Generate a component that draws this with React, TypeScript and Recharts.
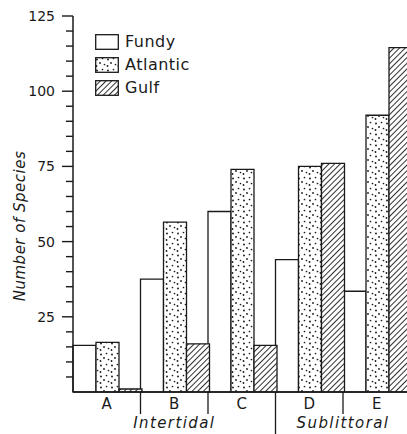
import React from 'react';
import { BarChart, Bar, XAxis, YAxis } from 'recharts';

// sampling sites along the shore
const categories = ['A', 'B', 'C', 'D', 'E'];
const fundy = [15.5, 37.5, 60, 44, 33.5];
const atlantic = [16.5, 56.5, 74, 75, 92];
const gulf = [1, 16, 15.5, 76, 114.5];

const zones = [
  { label: 'Intertidal', from: 1, to: 1 },
  { label: 'Sublittoral', from: 3, to: 4 },
];

const yMax = 125;
const yMajor = [25, 50, 75, 100, 125];
const yStep = 5;

const data = categories.map((c, i) => ({
  site: c,
  fundy: fundy[i],
  atlantic: atlantic[i],
  gulf: gulf[i],
}));

const CHART_W = 420;
const CHART_H = 434;
const AXIS_W = 73;
const AXIS_H = 42;
const TOP = 16;
const RIGHT = 9.5;
const BAND = (CHART_W - AXIS_W - RIGHT) / categories.length;

const INK = '#1a1a1a';
const FONT = '"DejaVu Sans", sans-serif';

const yTicks = Array.from({ length: yMax / yStep + 1 }, (_, i) => i * yStep);

const YTick = ({ x, y, payload }: any) => {
  const v = payload.value;
  const major = yMajor.includes(v);
  if (v === 0) return null;
  return (
    <g>
      <line x1={x - (major ? 11 : 7)} x2={x} y1={y} y2={y} stroke={INK} strokeWidth={1.4} />
      {major && (
        <text x={x - 18} y={y + 5} textAnchor="end" fontSize={14} fill={INK} fontFamily={FONT}>
          {v}
        </text>
      )}
    </g>
  );
};

const XTick = ({ x, y, payload, index }: any) => {
  const i = index ?? categories.indexOf(payload.value);
  const zone = zones.find(z => z.from === i);
  return (
    <g>
      <text x={x} y={y + 17} textAnchor="middle" fontSize={15} fill={INK} fontFamily={FONT}>
        {payload.value}
      </text>
      {i > 0 && (
        <line
          x1={x - BAND / 2}
          x2={x - BAND / 2}
          y1={y}
          y2={i === 3 ? y + 50 : y + 22}
          stroke={INK}
          strokeWidth={1.3}
        />
      )}
      {zone && (
        <text
          x={x + ((zone.to - zone.from) * BAND) / 2}
          y={y + 36}
          textAnchor="middle"
          fontSize={15}
          fontStyle="italic"
          letterSpacing={1.4}
          fill={INK}
          fontFamily={FONT}
        >
          {zone.label}
        </text>
      )}
    </g>
  );
};

const swatches = [
  { name: 'Fundy', fill: '#fff' },
  { name: 'Atlantic', fill: 'url(#dots)' },
  { name: 'Gulf', fill: 'url(#hatch)' },
];

const LegendBox = () => (
  <div style={{ position: 'absolute', left: 95, top: 30, fontFamily: FONT, fontSize: 16, color: INK }}>
    {swatches.map(s => (
      <div key={s.name} style={{ display: 'flex', alignItems: 'center', height: 23 }}>
        <svg width={24} height={16} style={{ display: 'block' }}>
          <rect x={0.7} y={0.7} width={22.6} height={14.6} fill={s.fill} stroke={INK} strokeWidth={1.3} />
        </svg>
        <span style={{ marginLeft: 6, letterSpacing: 0.5 }}>{s.name}</span>
      </div>
    ))}
  </div>
);

export default function App() {
  return (
    <div style={{ position: 'absolute', left: 0, top: 0, width: 407, height: 434, overflow: 'hidden', background: '#fff' }}>
      <BarChart
        width={CHART_W}
        height={CHART_H}
        data={data}
        margin={{ top: TOP, right: RIGHT, bottom: 0, left: 0 }}
        barCategoryGap={0}
        barGap={0}
      >
        <defs>
          <pattern id="dots" width={11} height={11} patternUnits="userSpaceOnUse">
            <rect width={11} height={11} fill="#fff" />
            <circle cx={2} cy={2.5} r={0.95} fill={INK} />
            <circle cx={7.5} cy={1.5} r={0.85} fill={INK} />
            <circle cx={5} cy={6} r={0.9} fill={INK} />
            <circle cx={9.5} cy={7.5} r={0.85} fill={INK} />
            <circle cx={1.5} cy={9} r={0.9} fill={INK} />
          </pattern>
          <pattern id="hatch" width={4} height={4} patternUnits="userSpaceOnUse" patternTransform="rotate(45)">
            <rect width={4} height={4} fill="#fff" />
            <line x1={0.5} y1={0} x2={0.5} y2={4} stroke={INK} strokeWidth={0.9} />
          </pattern>
        </defs>
        <XAxis
          dataKey="site"
          height={AXIS_H}
          axisLine={{ stroke: INK, strokeWidth: 1.5 }}
          tickLine={false}
          tickSize={0}
          tickMargin={0}
          tick={<XTick />}
          interval={0}
        />
        <YAxis
          width={AXIS_W}
          domain={[0, yMax]}
          ticks={yTicks}
          interval={0}
          axisLine={{ stroke: INK, strokeWidth: 1.5 }}
          tickLine={false}
          tickSize={0}
          tickMargin={0}
          tick={<YTick />}
        />
        <Bar dataKey="fundy" fill="#fff" stroke={INK} strokeWidth={1.3} isAnimationActive={false} />
        <Bar dataKey="atlantic" fill="url(#dots)" stroke={INK} strokeWidth={1.3} isAnimationActive={false} />
        <Bar dataKey="gulf" fill="url(#hatch)" stroke={INK} strokeWidth={1.3} isAnimationActive={false} />
      </BarChart>
      <LegendBox />
      <svg width={40} height={434} style={{ position: 'absolute', left: 0, top: 0 }}>
        <text
          transform="translate(25,226) rotate(-90)"
          textAnchor="middle"
          fontSize={15}
          fontStyle="italic"
          letterSpacing={0.5}
          fill={INK}
          fontFamily={FONT}
        >
          Number of Species
        </text>
      </svg>
    </div>
  );
}
